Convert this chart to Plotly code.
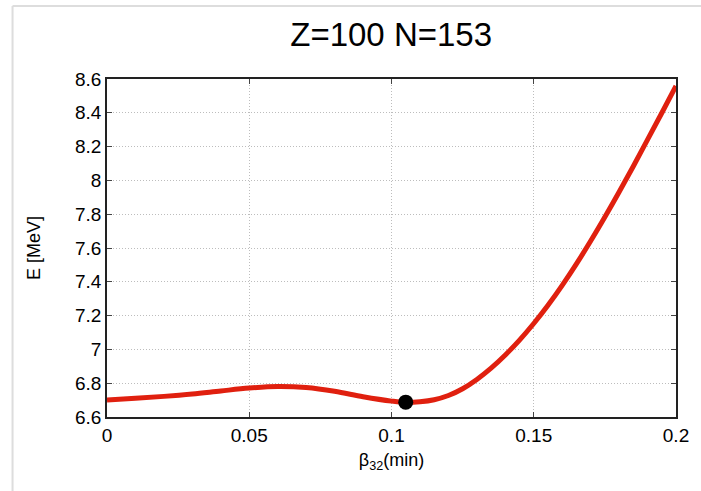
import plotly.graph_objects as go

beta = [0, 0.01, 0.02, 0.03, 0.04, 0.05, 0.06, 0.07, 0.08, 0.09, 0.1, 0.105,
        0.11, 0.115, 0.12, 0.125, 0.13, 0.135, 0.14, 0.145, 0.15, 0.155, 0.16,
        0.165, 0.17, 0.175, 0.18, 0.185, 0.19, 0.195, 0.2]
energy = [6.700, 6.711, 6.722, 6.736, 6.754, 6.771, 6.780, 6.774, 6.752, 6.720, 6.694, 6.686,
          6.690, 6.702, 6.727, 6.767, 6.822, 6.889, 6.967, 7.055, 7.153, 7.261, 7.379,
          7.506, 7.641, 7.783, 7.931, 8.084, 8.241, 8.399, 8.559]
min_beta = [0.105]
min_energy = [6.688]

x_ticks = [0, 0.05, 0.1, 0.15, 0.2]
x_labels = ["0", "0.05", "0.1", "0.15", "0.2"]
y_ticks = [6.6, 6.8, 7.0, 7.2, 7.4, 7.6, 7.8, 8.0, 8.2, 8.4, 8.6]
y_labels = ["6.6", "6.8", "7", "7.2", "7.4", "7.6", "7.8", "8", "8.2", "8.4", "8.6"]

font = "Liberation Sans, Arial, sans-serif"

fig = go.Figure()
fig.add_trace(go.Scatter(x=beta, y=energy, mode="lines",
                         line=dict(color="#e0200f", width=5, shape="spline", smoothing=1.0),
                         showlegend=False, hoverinfo="skip"))
fig.add_trace(go.Scatter(x=min_beta, y=min_energy, mode="markers",
                         marker=dict(color="black", size=15),
                         showlegend=False))

axis_common = dict(showline=True, linecolor="#222", linewidth=1.5, mirror="ticks",
                   ticks="inside", ticklen=5, tickcolor="#444",
                   showgrid=True, gridcolor="#bdbdbd", griddash="1px,2px", gridwidth=1,
                   zeroline=False, tickfont=dict(size=19, color="black", family=font))

fig.update_xaxes(range=[0, 0.2], tickvals=x_ticks, ticktext=x_labels,
                 title=dict(text="β<sub>32</sub>(min)", font=dict(size=18, color="black", family=font),
                            standoff=9),
                 **axis_common)
fig.update_yaxes(range=[6.6, 8.6], tickvals=y_ticks, ticktext=y_labels,
                 title=dict(text="E [MeV]", font=dict(size=18, color="black", family=font),
                            standoff=30),
                 **axis_common)

fig.update_layout(
    width=701, height=491,
    margin=dict(l=107, r=23, t=79, b=74),
    paper_bgcolor="white", plot_bgcolor="white",
    title=dict(text="Z=100 N=153", x=0.558, xanchor="center", y=0.929, yanchor="middle",
               font=dict(size=33, color="black", family=font)),
    shapes=[
        dict(type="line", xref="paper", yref="paper", x0=-0.166, x1=1.05, y0=1.216, y1=1.216,
             line=dict(color="#dddddd", width=2)),
        dict(type="line", xref="paper", yref="paper", x0=-0.166, x1=-0.166, y0=1.216, y1=-0.3,
             line=dict(color="#dddddd", width=2)),
    ],
)

fig.write_html("out.html")
